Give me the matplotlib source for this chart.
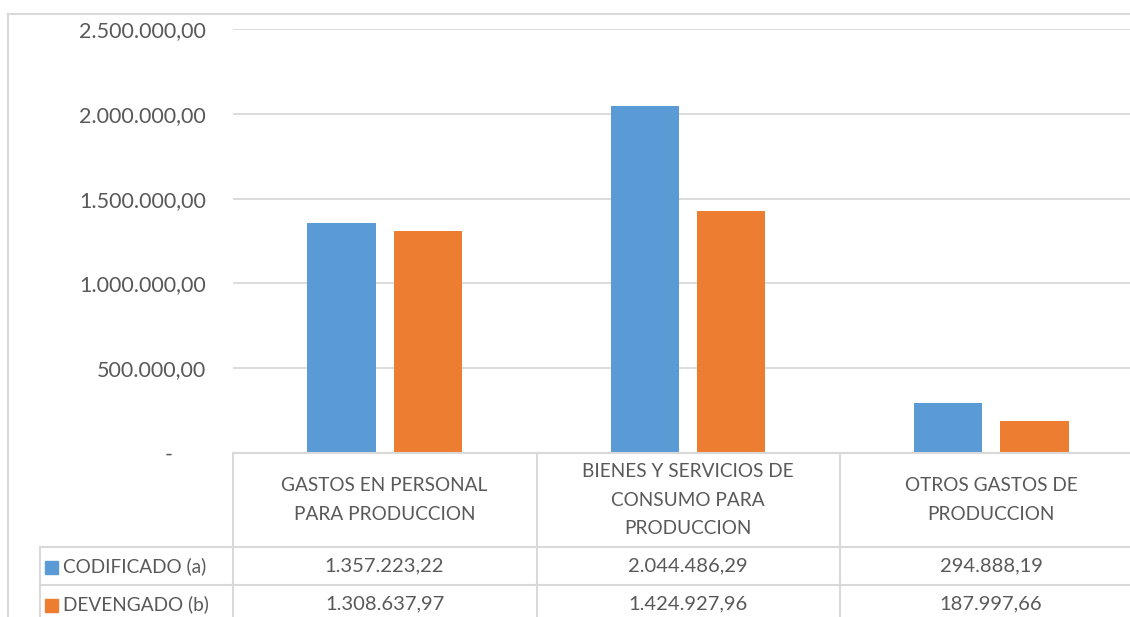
import matplotlib
matplotlib.use("Agg")
import matplotlib.pyplot as plt
from matplotlib.lines import Line2D
from matplotlib.patches import Rectangle

categories = ["GASTOS EN PERSONAL\nPARA PRODUCCION",
              "BIENES Y SERVICIOS DE\nCONSUMO PARA\nPRODUCCION",
              "OTROS GASTOS DE\nPRODUCCION"]
series_names = ["CODIFICADO (a)", "DEVENGADO (b)"]
codificado = [1357223.22, 2044486.29, 294888.19]
devengado = [1308637.97, 1424927.96, 187997.66]
yticks = [0, 500000, 1000000, 1500000, 2000000, 2500000]

BLUE = "#5B9BD5"
ORANGE = "#ED7D31"
GRID = "#D9D9D9"
TXT = "#595959"
FONT = "Lato"
FS_TICK = 15.5
FS_NUM = 14.5
FS_LBL = 13.7

plt.rcParams["font.family"] = [FONT, "DejaVu Sans"]


def es_fmt(v):
    s = f"{v:,.2f}"
    return s.replace(",", "X").replace(".", ",").replace("X", ".")


W, H = 1130, 617
fig = plt.figure(figsize=(W / 100, H / 100), dpi=100)


def fx(px):
    return px / W


def fy(py):
    return 1 - py / H


# plot area (runs past the right edge, like the cropped original)
ax = fig.add_axes([fx(233), fy(453), fx(1143) - fx(233), fy(29) - fy(453)])
ax.set_xlim(-0.5, len(categories) - 0.5)
ax.set_ylim(0, 2500000)

xs = range(len(categories))
bw = 0.225
off = 0.142
ax.bar([x - off for x in xs], codificado, bw, color=BLUE, zorder=3)
ax.bar([x + off for x in xs], devengado, bw, color=ORANGE, zorder=3)

ax.set_yticks(yticks)
# accounting style: zero shown as a dash with some padding
ax.set_yticklabels(["-      " if t == 0 else es_fmt(t) for t in yticks])
ax.tick_params(axis="y", length=0, pad=19.5, labelsize=FS_TICK, labelcolor=TXT)
ax.set_xticks([])
ax.grid(axis="y", color=GRID, lw=1.3, zorder=0)
for s in ax.spines.values():
    s.set_visible(False)

# data table under the axis
lines = []
lines.append(([fx(233), 1.0], [fy(453), fy(453)]))
for py in (547, 585):
    lines.append(([fx(40), 1.0], [fy(py), fy(py)]))
for px in (233, 537, 840):
    lines.append(([fx(px), fx(px)], [fy(453), 0]))
lines.append(([fx(40), fx(40)], [fy(547), 0]))
# outer chart border
lines.append(([fx(8), fx(8)], [fy(14), 0]))
lines.append(([fx(8), 1.0], [fy(14), fy(14)]))
for xx, yy in lines:
    fig.add_artist(Line2D(xx, yy, color=GRID, lw=1.5, transform=fig.transFigure))

for i, cat in enumerate(categories):
    cx = fx(233 + 303.3 * i + 151.5)
    fig.text(cx, fy(500), cat, ha="center", va="center", fontsize=FS_LBL,
             color=TXT, linespacing=1.8)
    fig.text(cx, fy(566), es_fmt(codificado[i]), ha="center", va="center",
             fontsize=FS_NUM, color=TXT)
    fig.text(cx, fy(604), es_fmt(devengado[i]), ha="center", va="center",
             fontsize=FS_NUM, color=TXT)

for name, col, py in zip(series_names, (BLUE, ORANGE), (567, 605)):
    fig.add_artist(Rectangle((fx(45), fy(py + 6.5)), fx(13), fy(py - 6.5) - fy(py + 6.5),
                             color=col, transform=fig.transFigure))
    fig.text(fx(63), fy(py - 1), name, ha="left", va="center", fontsize=FS_LBL,
             color=TXT)

fig.savefig("out.png", dpi=100)
